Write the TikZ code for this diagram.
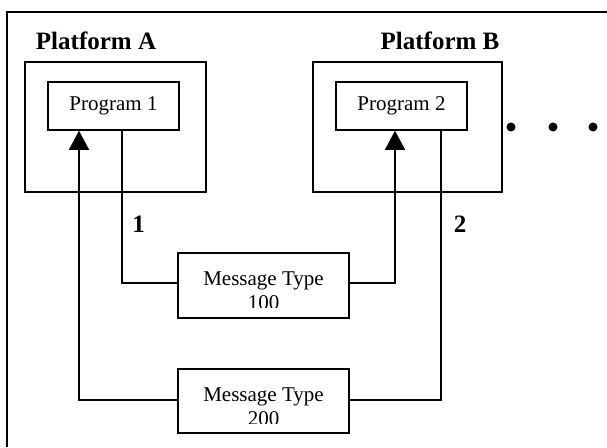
\documentclass[tikz,border=0pt]{standalone}
\usepackage{fontspec}
\setmainfont{Liberation Serif}
\usetikzlibrary{arrows.meta}
\begin{document}
\begin{tikzpicture}[x=1pt,y=-1pt,
  box/.style={draw,line width=1.5pt,rectangle,inner sep=0pt},
  lbl/.style={font=\fontsize{25}{28}\selectfont\bfseries,inner sep=0pt},
  txt/.style={font=\fontsize{21}{24}\selectfont,inner sep=0pt,align=center},
  wire/.style={line width=1.5pt},
  arr/.style={line width=1.5pt,-{Triangle[length=19pt,width=20pt]}},
  dot/.style={circle,fill=black,inner sep=0pt,minimum size=9pt}]
\useasboundingbox (0,0) rectangle (607,447);
\fill[white] (0,0) rectangle (607,447);
% outer frame (continues beyond the visible area)
\draw[line width=2pt] (607,12) -- (7,12) -- (7,447);
% platforms
\node[lbl] (la) at (96,41) {Platform A};
\node[lbl] (lb) at (440,41) {Platform B};
\node[box,minimum width=181pt,minimum height=130pt] (pa) at (115.5,127) {};
\node[box,minimum width=189pt,minimum height=130pt] (pb) at (407.5,127) {};
\node[box,minimum width=131pt,minimum height=48pt,txt] (p1) at (113.5,106) {Program 1};
\node[box,minimum width=131pt,minimum height=48pt,txt] (p2) at (401.5,106) {Program 2};
% dots
\node[dot] (d1) at (511,127) {};
\node[dot] (d2) at (553,127) {};
\node[dot] (d3) at (593,127) {};
% message boxes
\node[box,minimum width=171pt,minimum height=65pt] (m1) at (263.5,285.5) {};
\node[box,minimum width=171pt,minimum height=64pt] (m2) at (263.5,401) {};
\begin{scope}
  \clip (m1.north west) rectangle ([yshift=11pt]m1.south east);
  \node[txt,anchor=base] (t1) at (263.5,309) {Message Type\\100};
\end{scope}
\begin{scope}
  \clip (m2.north west) rectangle ([yshift=10pt]m2.south east);
  \node[txt,anchor=base] (t2) at (263.5,425) {Message Type\\200};
\end{scope}
% labels
\node[lbl] (n1) at (138.5,224) {1};
\node[lbl] (n2) at (460,224) {2};
% connectors
\draw[wire] ([xshift=8.5pt]p1.south) |- ([yshift=2.5pt]m1.west);
\draw[arr] ([yshift=2.5pt]m1.east) -| ([xshift=-6.5pt]p2.south);
\draw[arr] ([yshift=1pt]m2.west) -| ([xshift=-34.5pt]p1.south);
\draw[wire] ([yshift=1pt]m2.east) -| ([xshift=39.5pt]p2.south);
\end{tikzpicture}
\end{document}
